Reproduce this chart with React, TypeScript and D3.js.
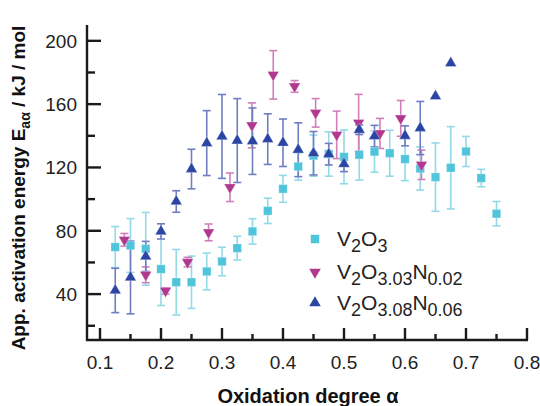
import React from "react";
import * as d3 from "d3";

const cyanAlpha = [0.125,0.15,0.175,0.2,0.225,0.25,0.275,0.3,0.325,0.35,0.375,0.4,0.425,0.45,0.475,0.5,0.525,0.55,0.575,0.6,0.625,0.65,0.675,0.7,0.725,0.75];
const cyanE = [69.7,70.7,68.6,55.8,47.5,47.5,54.3,60.6,69,79.6,92.6,106.5,120.6,127.5,128.5,126.7,128,130,129,125.3,119.3,113.9,119.8,130.1,113.3,90.8];
const cyanErr = [13,17,23,23,20.7,16.5,11.6,9,7.5,8,8,8.5,8.6,13,14,17,16,13,14.5,13.6,13.6,21.6,26,9.5,5.5,7.7];

const magAlpha = [0.14,0.175,0.2075,0.2435,0.278,0.313,0.349,0.384,0.419,0.4535,0.488,0.524,0.559,0.593,0.627];
const magE = [74.3,52.2,42,60.2,79,107.5,146.6,178.5,171.2,154.5,140.6,148.2,141.5,151,121.7];
const magErr = [4,5,2,3,5.3,9,14.2,15.3,3.7,9,15,18,9.5,11.3,9.3];

const blueAlpha = [0.125,0.15,0.175,0.2,0.225,0.25,0.275,0.3,0.325,0.35,0.375,0.4,0.425,0.45,0.475,0.5,0.525,0.55,0.6,0.625,0.65,0.675];
const blueE = [42.3,50.5,63.8,79.6,98.5,119,135.4,139.6,137,136.6,137.9,135.6,131.2,129,128.4,122.2,143.8,139.8,140,144.9,165,185.9];
const blueErr = [14,23,9.5,4.8,6.8,12.5,20.5,26.5,26.5,21,16,15,17,13.7,6.8,4.8,3,6.8,6.3,16.8,0,0];

const xMajor = [0.1,0.2,0.3,0.4,0.5,0.6,0.7,0.8];
const xMinor = [0.15,0.25,0.35,0.45,0.55,0.65,0.75];
const yMajor = [40,80,120,160,200];
const yMinor = [20,60,100,140,180];

const C_CYAN = "#4fc4da";
const C_CYAN_ERR = "#93d9e8";
const C_MAG = "#b0388f";
const C_MAG_ERR = "#d07fbb";
const C_BLUE = "#2c45a4";
const C_BLUE_ERR = "#6f7dc2";

const FONT = "'Liberation Sans', Arial, sans-serif";

export default function App() {
  const x = d3.scaleLinear().domain([0.0787, 0.8]).range([87, 527]);
  const y = d3.scaleLinear().domain([11, 210]).range([340, 25]);

  const sq = d3.symbol().type(d3.symbolSquare).size(72)()!;
  const tri = d3.symbol().type(d3.symbolTriangle).size(58)()!;

  const series = [
    { a: cyanAlpha, e: cyanE, err: cyanErr, col: C_CYAN, ecol: C_CYAN_ERR, path: sq, rot: 0 },
    { a: magAlpha, e: magE, err: magErr, col: C_MAG, ecol: C_MAG_ERR, path: tri, rot: 180 },
    { a: blueAlpha, e: blueE, err: blueErr, col: C_BLUE, ecol: C_BLUE_ERR, path: tri, rot: 0 },
  ];

  const capW = 4;

  return (
    <svg width={540} height={406} style={{ position: "absolute", left: 0, top: 0, background: "#fff" }} fontFamily={FONT}>
      {/* error bars */}
      {series.map((s, si) => (
        <g key={"err" + si} stroke={s.ecol} strokeWidth={1.6} fill="none">
          {s.a.map((a, i) =>
            s.err[i] > 0 ? (
              <g key={i}>
                <line x1={x(a)} x2={x(a)} y1={y(s.e[i] + s.err[i])} y2={y(s.e[i] - s.err[i])} />
                <line x1={x(a) - capW} x2={x(a) + capW} y1={y(s.e[i] + s.err[i])} y2={y(s.e[i] + s.err[i])} />
                <line x1={x(a) - capW} x2={x(a) + capW} y1={y(s.e[i] - s.err[i])} y2={y(s.e[i] - s.err[i])} />
              </g>
            ) : null
          )}
        </g>
      ))}
      {/* markers */}
      {series.map((s, si) => (
        <g key={"m" + si} fill={s.col} stroke="#ffffff" strokeOpacity={0.5} strokeWidth={0.6}>
          {s.a.map((a, i) => (
            <path key={i} d={s.path} transform={`translate(${x(a)},${y(s.e[i])}) rotate(${s.rot})`} />
          ))}
        </g>
      ))}

      {/* axes */}
      <g stroke="#1a1a1a" strokeWidth={2.4} fill="none">
        <line x1={87} x2={87} y1={25} y2={341} />
        <line x1={86} x2={528} y1={340} y2={340} />
        {xMajor.map((t) => (
          <line key={"xM" + t} x1={x(t)} x2={x(t)} y1={340} y2={328} />
        ))}
        {xMinor.map((t) => (
          <line key={"xm" + t} x1={x(t)} x2={x(t)} y1={340} y2={334} />
        ))}
        {yMajor.map((t) => (
          <line key={"yM" + t} x1={87} x2={101} y1={y(t)} y2={y(t)} />
        ))}
        {yMinor.map((t) => (
          <line key={"ym" + t} x1={87} x2={95} y1={y(t)} y2={y(t)} />
        ))}
      </g>

      {/* tick labels */}
      <g fill="#222" fontSize={19}>
        {xMajor.map((t) => (
          <text key={"xl" + t} x={x(t)} y={369} textAnchor="middle">
            {t.toFixed(1)}
          </text>
        ))}
        {yMajor.map((t) => (
          <text key={"yl" + t} x={77} y={y(t) + 7} textAnchor="end">
            {t}
          </text>
        ))}
      </g>

      {/* axis titles */}
      <text x={308} y={403} textAnchor="middle" fontSize={20} fontWeight="bold" fill="#111">
        Oxidation degree α
      </text>
      <text transform="translate(25,188) rotate(-90)" textAnchor="middle" fontSize={19} fontWeight="bold" fill="#111">
        App. activation energy E<tspan fontSize={14} dy={5}>aα</tspan>
        <tspan dy={-5}> / kJ / mol</tspan>
      </text>

      {/* legend */}
      <g fontSize={21} fill="#222">
        <path d={sq} fill={C_CYAN} transform="translate(315,239)" />
        <text x={337} y={246}>
          V<tspan fontSize={18} dy={6}>2</tspan>
          <tspan dy={-6}>O</tspan>
          <tspan fontSize={18} dy={6}>3</tspan>
        </text>
        <path d={tri} fill={C_MAG} transform="translate(315,272) rotate(180)" />
        <text x={337} y={279}>
          V<tspan fontSize={18} dy={6}>2</tspan>
          <tspan dy={-6}>O</tspan>
          <tspan fontSize={18} dy={6}>3.03</tspan>
          <tspan dy={-6}>N</tspan>
          <tspan fontSize={18} dy={6}>0.02</tspan>
        </text>
        <path d={tri} fill={C_BLUE} transform="translate(315,303)" />
        <text x={337} y={310}>
          V<tspan fontSize={18} dy={6}>2</tspan>
          <tspan dy={-6}>O</tspan>
          <tspan fontSize={18} dy={6}>3.08</tspan>
          <tspan dy={-6}>N</tspan>
          <tspan fontSize={18} dy={6}>0.06</tspan>
        </text>
      </g>
    </svg>
  );
}
